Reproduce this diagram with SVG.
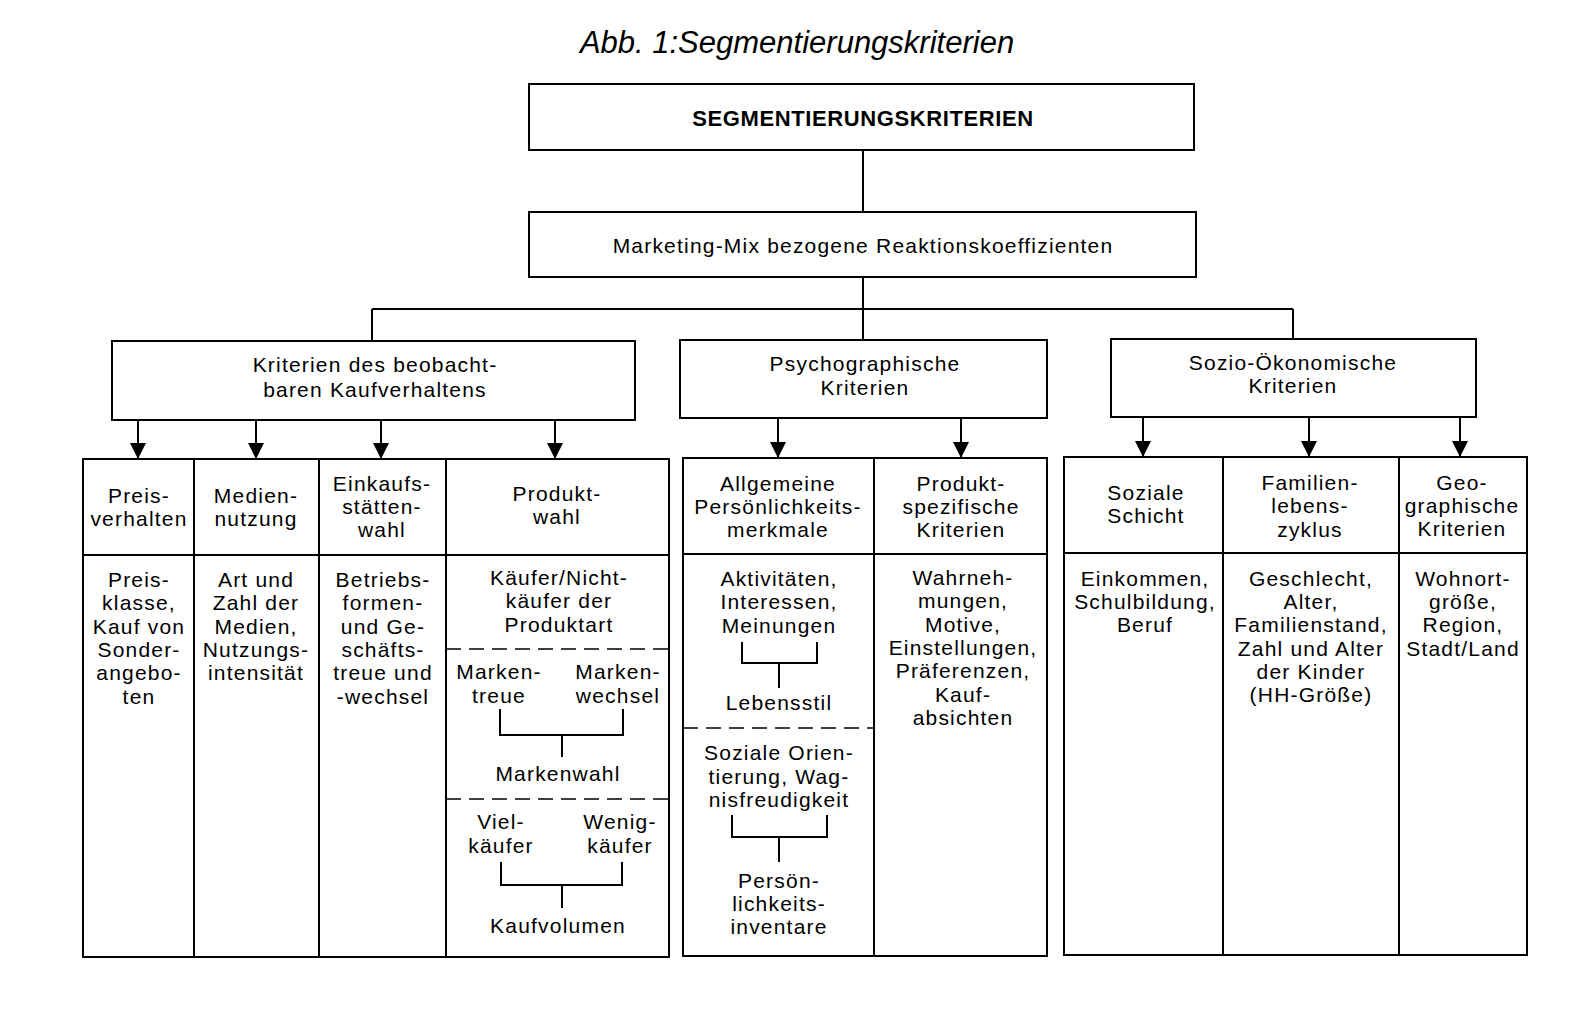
<svg xmlns="http://www.w3.org/2000/svg" width="1590" height="1025" viewBox="0 0 1590 1025">
<style>
text{font-family:"Liberation Sans",Arial,sans-serif;fill:#000}
.t{font-size:21px;letter-spacing:1.2px;text-anchor:middle}
.b{font-size:22px;font-weight:bold;letter-spacing:0.6px;text-anchor:middle}
.cap{font-size:31px;font-style:italic;text-anchor:middle}
.box{fill:#fff;stroke:#000;stroke-width:2}
.ln{fill:none;stroke:#000;stroke-width:2}
.dash{fill:none;stroke:#000;stroke-width:1.6;stroke-dasharray:15 8}
</style>
<defs>
<marker id="ah" markerUnits="userSpaceOnUse" markerWidth="16" markerHeight="16" viewBox="0 0 16 16" refX="16" refY="8" orient="auto">
<path d="M0,0 L16,8 L0,16 Z" fill="#000"/>
</marker>
</defs>
<rect width="1590" height="1025" fill="#fff"/>
<text id="caption" class="cap" x="797" y="53">Abb. 1:Segmentierungskriterien</text>

<g id="root">
<rect class="box" x="529" y="84" width="665" height="66"/>
<text class="b" x="863" y="126">SEGMENTIERUNGSKRITERIEN</text>
</g>
<g id="mix">
<rect class="box" x="529" y="212" width="667" height="65"/>
<text class="t" x="863" y="253">Marketing-Mix bezogene Reaktionskoeffizienten</text>
</g>
<g id="kaufverhalten">
<rect class="box" x="112" y="341" width="523" height="79"/>
<text class="t" x="375" y="372">Kriterien des beobacht-</text>
<text class="t" x="375" y="397">baren Kaufverhaltens</text>
</g>
<g id="psycho">
<rect class="box" x="680" y="340" width="367" height="78"/>
<text class="t" x="865" y="371">Psychographische</text>
<text class="t" x="865" y="395">Kriterien</text>
</g>
<g id="sozio">
<rect class="box" x="1111" y="339" width="365" height="78"/>
<text class="t" x="1293" y="370">Sozio-Ökonomische</text>
<text class="t" x="1293" y="393">Kriterien</text>
</g>

<g id="table1">
<rect class="box" x="83" y="459" width="586" height="498"/>
<path class="ln" d="M83,555 H669 M194,459 V957 M319,459 V957 M446,459 V957"/>
<path class="dash" d="M446,649 H669 M446,799 H669"/>
<text class="t" x="139" y="503">Preis-</text>
<text class="t" x="139" y="526">verhalten</text>
<text class="t" x="256" y="503">Medien-</text>
<text class="t" x="256" y="526">nutzung</text>
<text class="t" x="382" y="491">Einkaufs-</text>
<text class="t" x="382" y="514">stätten-</text>
<text class="t" x="382" y="537">wahl</text>
<text class="t" x="557" y="501">Produkt-</text>
<text class="t" x="557" y="524">wahl</text>
<text class="t" x="139" y="587">Preis-</text>
<text class="t" x="139" y="610">klasse,</text>
<text class="t" x="139" y="634">Kauf von</text>
<text class="t" x="139" y="657">Sonder-</text>
<text class="t" x="139" y="680">angebo-</text>
<text class="t" x="139" y="704">ten</text>
<text class="t" x="256" y="587">Art und</text>
<text class="t" x="256" y="610">Zahl der</text>
<text class="t" x="256" y="634">Medien,</text>
<text class="t" x="256" y="657">Nutzungs-</text>
<text class="t" x="256" y="680">intensität</text>
<text class="t" x="383" y="587">Betriebs-</text>
<text class="t" x="383" y="610">formen-</text>
<text class="t" x="383" y="634">und Ge-</text>
<text class="t" x="383" y="657">schäfts-</text>
<text class="t" x="383" y="680">treue und</text>
<text class="t" x="383" y="704">-wechsel</text>
<text class="t" x="559" y="585">Käufer/Nicht-</text>
<text class="t" x="559" y="608">käufer der</text>
<text class="t" x="559" y="632">Produktart</text>
<text class="t" x="499" y="679">Marken-</text>
<text class="t" x="499" y="703">treue</text>
<text class="t" x="618" y="679">Marken-</text>
<text class="t" x="618" y="703">wechsel</text>
<text class="t" x="558" y="781">Markenwahl</text>
<text class="t" x="501" y="829">Viel-</text>
<text class="t" x="501" y="853">käufer</text>
<text class="t" x="620" y="829">Wenig-</text>
<text class="t" x="620" y="853">käufer</text>
<text class="t" x="558" y="933">Kaufvolumen</text>
</g>

<g id="table2">
<rect class="box" x="683" y="458" width="364" height="498"/>
<path class="ln" d="M683,554 H1047 M874,458 V956"/>
<path class="dash" d="M683,728 H874"/>
<text class="t" x="778" y="491">Allgemeine</text>
<text class="t" x="778" y="514">Persönlichkeits-</text>
<text class="t" x="778" y="537">merkmale</text>
<text class="t" x="961" y="491">Produkt-</text>
<text class="t" x="961" y="514">spezifische</text>
<text class="t" x="961" y="537">Kriterien</text>
<text class="t" x="779" y="586">Aktivitäten,</text>
<text class="t" x="779" y="609">Interessen,</text>
<text class="t" x="779" y="633">Meinungen</text>
<text class="t" x="779" y="710">Lebensstil</text>
<text class="t" x="779" y="760">Soziale Orien-</text>
<text class="t" x="779" y="784">tierung, Wag-</text>
<text class="t" x="779" y="807">nisfreudigkeit</text>
<text class="t" x="779" y="888">Persön-</text>
<text class="t" x="779" y="911">lichkeits-</text>
<text class="t" x="779" y="934">inventare</text>
<text class="t" x="963" y="585">Wahrneh-</text>
<text class="t" x="963" y="608">mungen,</text>
<text class="t" x="963" y="632">Motive,</text>
<text class="t" x="963" y="655">Einstellungen,</text>
<text class="t" x="963" y="678">Präferenzen,</text>
<text class="t" x="963" y="702">Kauf-</text>
<text class="t" x="963" y="725">absichten</text>
</g>

<g id="table3">
<rect class="box" x="1064" y="457" width="463" height="498"/>
<path class="ln" d="M1064,553 H1527 M1223,457 V955 M1399,457 V955"/>
<text class="t" x="1146" y="500">Soziale</text>
<text class="t" x="1146" y="523">Schicht</text>
<text class="t" x="1310" y="490">Familien-</text>
<text class="t" x="1310" y="513">lebens-</text>
<text class="t" x="1310" y="537">zyklus</text>
<text class="t" x="1462" y="490">Geo-</text>
<text class="t" x="1462" y="513">graphische</text>
<text class="t" x="1462" y="536">Kriterien</text>
<text class="t" x="1145" y="586">Einkommen,</text>
<text class="t" x="1145" y="609">Schulbildung,</text>
<text class="t" x="1145" y="632">Beruf</text>
<text class="t" x="1311" y="586">Geschlecht,</text>
<text class="t" x="1311" y="609">Alter,</text>
<text class="t" x="1311" y="632">Familienstand,</text>
<text class="t" x="1311" y="656">Zahl und Alter</text>
<text class="t" x="1311" y="679">der Kinder</text>
<text class="t" x="1311" y="702">(HH-Größe)</text>
<text class="t" x="1463" y="586">Wohnort-</text>
<text class="t" x="1463" y="609">größe,</text>
<text class="t" x="1463" y="632">Region,</text>
<text class="t" x="1463" y="656">Stadt/Land</text>
</g>

<g id="connectors">
<path class="ln" d="M863,150 V212"/>
<path class="ln" d="M863,277 V309 M372,309 H1293 M372,309 V341 M863,309 V340 M1293,309 V339"/>
<path class="ln" marker-end="url(#ah)" d="M138,420 V459"/>
<path class="ln" marker-end="url(#ah)" d="M256,420 V459"/>
<path class="ln" marker-end="url(#ah)" d="M381,420 V459"/>
<path class="ln" marker-end="url(#ah)" d="M555,420 V459"/>
<path class="ln" marker-end="url(#ah)" d="M778,418 V458"/>
<path class="ln" marker-end="url(#ah)" d="M961,418 V458"/>
<path class="ln" marker-end="url(#ah)" d="M1143,417 V457"/>
<path class="ln" marker-end="url(#ah)" d="M1309,417 V457"/>
<path class="ln" marker-end="url(#ah)" d="M1460,417 V457"/>
<path class="ln" d="M500,709 V735 H623 V709 M562,735 V757"/>
<path class="ln" d="M501,862 V885 H622 V862 M562,885 V908"/>
<path class="ln" d="M742,642 V663 H817 V642 M779,663 V688"/>
<path class="ln" d="M732,815 V837 H827 V815 M779,837 V862"/>
</g>
</svg>
